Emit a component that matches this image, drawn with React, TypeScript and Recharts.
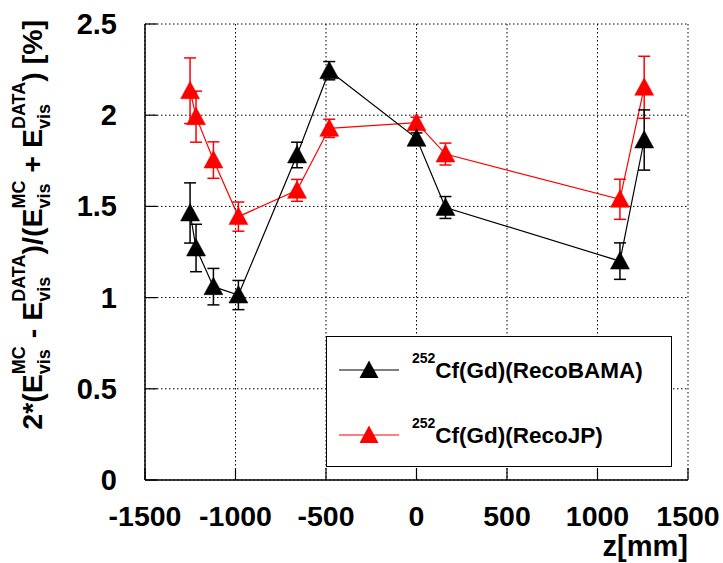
import { CartesianGrid, ComposedChart, ErrorBar, Legend, Line, XAxis, YAxis } from "recharts"

// z positions of the calibration source [mm]
const zPositions = [-1251, -1218, -1122, -984, -660, -482, 0, 160, 1124, 1258]
// relative difference MC vs DATA [%]
const recoBama = [1.464, 1.272, 1.06, 1.014, 1.782, 2.244, 1.873, 1.494, 1.2, 1.864]
const recoBamaErr = [0.165, 0.13, 0.1, 0.08, 0.07, 0.05, 0.03, 0.06, 0.1, 0.165]
const recoJP = [2.134, 1.992, 1.754, 1.444, 1.588, 1.928, 1.959, 1.787, 1.539, 2.153]
const recoJPErr = [0.18, 0.14, 0.1, 0.08, 0.06, 0.05, 0.03, 0.06, 0.11, 0.17]

const xTicks = [-1500, -1000, -500, 0, 500, 1000, 1500]
const yTicks = [0, 0.5, 1, 1.5, 2, 2.5]
const legendNames = ["Cf(Gd)(RecoBAMA)", "Cf(Gd)(RecoJP)"]
const legendColors = ["#000000", "#ff0000"]

const data = zPositions.map((z, i) => ({
  z,
  bama: recoBama[i],
  bamaErr: recoBamaErr[i],
  jp: recoJP[i],
  jpErr: recoJPErr[i],
}))

const FONT = "'Liberation Sans', Arial, Helvetica, sans-serif"

const triPoints = (cx: number, cy: number) =>
  `${cx},${cy - 9.5} ${cx - 9.5},${cy + 8} ${cx + 9.5},${cy + 8}`

const makeDot = (color: string) => (props: any) => {
  const { cx, cy, index } = props
  if (cx == null || cy == null) return <g key={index} />
  return <polygon key={index} points={triPoints(cx, cy)} fill={color} stroke={color} strokeWidth={0.5} />
}

const XTick = (props: any) => {
  const { x, y, payload } = props
  return (
    <g>
      <line x1={x} x2={x} y1={y} y2={y - 12} stroke="#000" strokeWidth={1.2} />
      <text x={x} y={y + 46} textAnchor="middle" fontSize={28.5} fontWeight="bold" fontFamily={FONT} fill="#000">
        {payload.value}
      </text>
    </g>
  )
}

const YTick = (props: any) => {
  const { x, y, payload } = props
  return (
    <g>
      <line x1={x} x2={x + 12} y1={y} y2={y} stroke="#000" strokeWidth={1.2} />
      <text x={x - 28} y={y + 10} textAnchor="end" fontSize={29} fontWeight="bold" fontFamily={FONT} fill="#000">
        {payload.value}
      </text>
    </g>
  )
}

// stacked sub/superscript: "vis" below, then step back and put the tag above
const S = 18
const visW = 1.39 * S
const Scripts = ({ sup }: { sup: string }) => (
  <>
    <tspan fontSize={S} dy={8}>vis</tspan>
    <tspan fontSize={S} dx={-visW} dy={-25}>{sup}</tspan>
  </>
)

const YTitle = (props: any) => {
  const vb = props.viewBox || { x: 0, y: 24 }
  const x = vb.x + 42
  const y = vb.y - 4
  return (
    <text
      x={0}
      y={0}
      transform={`translate(${x},${y}) rotate(-90)`}
      textAnchor="end"
      fontSize={28.5}
      fontWeight="bold"
      fontFamily={FONT}
      fill="#000"
      style={{ whiteSpace: "pre" }}
    >
      <tspan>2*(E</tspan>
      <Scripts sup="MC" />
      <tspan dy={17}> - E</tspan>
      <Scripts sup="DATA" />
      <tspan dy={17}>)/(E</tspan>
      <Scripts sup="MC" />
      <tspan dy={17}> + E</tspan>
      <Scripts sup="DATA" />
      <tspan dy={17}>) [%]</tspan>
    </text>
  )
}

const XTitle = (props: any) => {
  const vb = props.viewBox || { x: 145, y: 480, width: 543 }
  return (
    <text x={vb.x + vb.width} y={vb.y + 76} textAnchor="end" fontSize={29} fontWeight="bold" fontFamily={FONT} fill="#000">
      z[mm]
    </text>
  )
}

const LegendBox = () => (
  <svg width={346} height={131} style={{ display: "block" }}>
    <rect x={0.5} y={0.5} width={345} height={130} fill="#fff" stroke="#000" strokeWidth={1} />
    {legendNames.map((name, i) => {
      const cy = 34 + i * 65
      return (
        <g key={name}>
          <line x1={13} x2={73} y1={cy} y2={cy} stroke={legendColors[i]} strokeWidth={1.2} />
          <polygon points={triPoints(43, cy)} fill={legendColors[i]} />
          <text x={86} y={cy + 8} fontSize={22.5} fontWeight="bold" fontFamily={FONT} fill="#000">
            <tspan fontSize={14} dy={-15}>252</tspan>
            <tspan dy={15}>{name}</tspan>
          </text>
        </g>
      )
    })}
  </svg>
)

export default function App() {
  return (
    <div style={{ position: "absolute", left: 0, top: 0, width: 723, height: 563, background: "#fff" }}>
      <ComposedChart width={723} height={563} data={data} margin={{ top: 24, right: 35, bottom: 0, left: 0 }}>
        <CartesianGrid stroke="#000" strokeDasharray="1.5 2.5" strokeWidth={1} />
        <XAxis
          xAxisId={0}
          type="number"
          dataKey="z"
          domain={[-1500, 1500]}
          ticks={xTicks}
          allowDataOverflow
          height={83}
          tickSize={0}
          tickMargin={0}
          tickLine={false}
          axisLine={{ stroke: "#000", strokeWidth: 1.5 }}
          tick={<XTick />}
          label={{ content: (p: any) => <XTitle {...p} /> }}
        />
        <XAxis
          xAxisId="top"
          orientation="top"
          type="number"
          dataKey="z"
          domain={[-1500, 1500]}
          ticks={xTicks}
          height={0}
          tick={false}
          tickLine={false}
          axisLine={{ stroke: "#000", strokeWidth: 1.5 }}
        />
        <YAxis
          yAxisId={0}
          type="number"
          domain={[0, 2.5]}
          ticks={yTicks}
          allowDataOverflow
          width={145}
          tickSize={0}
          tickMargin={0}
          tickLine={false}
          axisLine={{ stroke: "#000", strokeWidth: 1.5 }}
          tick={<YTick />}
          label={{ content: (p: any) => <YTitle {...p} /> }}
        />
        <YAxis
          yAxisId="right"
          orientation="right"
          type="number"
          domain={[0, 2.5]}
          ticks={yTicks}
          width={0}
          tick={false}
          tickLine={false}
          axisLine={{ stroke: "#000", strokeWidth: 2 }}
        />
        <Legend
          layout="horizontal"
          verticalAlign="middle"
          align="center"
          wrapperStyle={{ position: "absolute", left: 326, top: 336, width: 346, height: 131 }}
          content={() => <LegendBox />}
        />
        <Line
          dataKey="jp"
          stroke="#ff0000"
          strokeWidth={1.2}
          dot={makeDot("#ff0000")}
          activeDot={false}
          isAnimationActive={false}
        >
          <ErrorBar dataKey="jpErr" width={6} stroke="#ff0000" strokeWidth={1.5} direction="y" />
        </Line>
        <Line
          dataKey="bama"
          stroke="#000000"
          strokeWidth={1.2}
          dot={makeDot("#000000")}
          activeDot={false}
          isAnimationActive={false}
        >
          <ErrorBar dataKey="bamaErr" width={6} stroke="#000000" strokeWidth={1.5} direction="y" />
        </Line>
      </ComposedChart>
    </div>
  )
}
